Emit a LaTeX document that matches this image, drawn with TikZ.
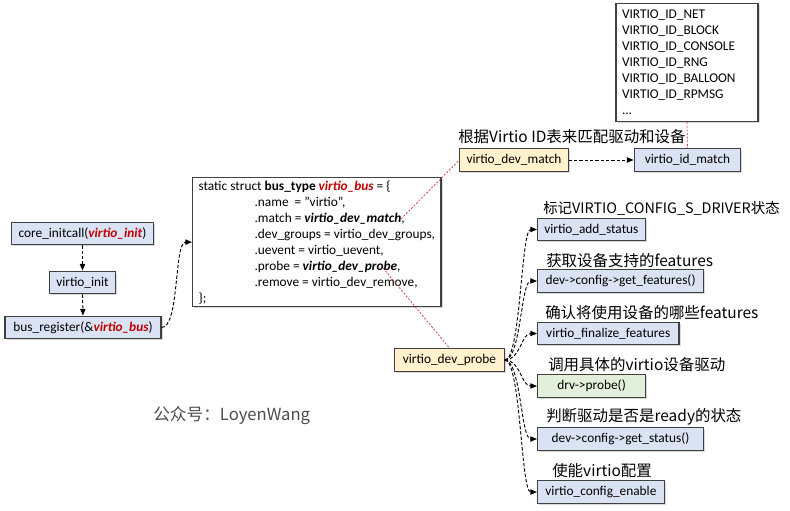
\documentclass[tikz,border=0pt]{standalone}
\usepackage{fontspec}
\setmainfont{Carlito}
\newfontfamily\cjkfont{Noto Sans CJK SC}
\usetikzlibrary{positioning, arrows.meta, shadows}
\definecolor{C0}{RGB}{218, 227, 243}
\definecolor{C1}{RGB}{255, 242, 204}
\definecolor{C2}{RGB}{226, 239, 218}
\definecolor{C3}{RGB}{64,  64,  64}
\definecolor{C4}{RGB}{192,  0,   0}
\definecolor{C5}{RGB}{215, 45,  45}
\newcommand{\redfn}[1]{{\color{C4}\bfseries\itshape #1}}
\newcommand{\boldfn}[1]{{\bfseries\itshape #1}}
\tikzset{
  fn/.style={
    rectangle, draw=C3, fill=#1, line width=0.9pt,
    minimum height=17pt, inner xsep=5pt, inner ysep=2pt,
    font=\fontsize{10}{12}\selectfont,
    drop shadow={shadow xshift=1.2pt, shadow yshift=-1.2pt, opacity=0.3}
  },
  fn/.default=C0,
  codebox/.style={
    rectangle, draw=C3, fill=white, line width=0.9pt,
    align=left, inner xsep=4.5pt, inner ysep=2pt,
    font=\fontsize{10}{12}\selectfont,
    drop shadow={shadow xshift=1.2pt, shadow yshift=-1.2pt, opacity=0.3}
  },
  note/.style={font=\cjkfont\fontsize{11.6}{14}\selectfont, inner sep=0pt, anchor=west},
  arr/.style={-{Triangle[length=5pt,width=4pt]}, line width=0.7pt, dash pattern=on 2.5pt off 1.5pt},
  ref/.style={C5, line width=0.5pt, dash pattern=on 1.5pt off 1.2pt},
}

\begin{document}
\begin{tikzpicture}[x=0.75pt, y=-0.75pt]

  \useasboundingbox (0,0) rectangle (790,511);

  %% ── Init chain ─────────────────────────────────────────────────────────────

  \node[fn, minimum width=106pt] (coreinit) at (82.5, 233.5) {core\_initcall(\redfn{virtio\_init})};
  \node[fn, minimum width=49pt]  (virtinit) at (82.5, 282.5) {virtio\_init};
  \node[fn, minimum width=117pt] (busreg)   at (83,   327.5) {bus\_register(\&\redfn{virtio\_bus})};

  \draw[arr] (coreinit.south) -- (virtinit.north);
  \draw[arr] (virtinit.south) -- (busreg.north);

  %% ── bus_type struct ────────────────────────────────────────────────────────

  \node[codebox, anchor=north west, minimum width=186pt, minimum height=96.75pt] (busstruct) at (192, 177)
    {static struct \textbf{bus\_type} \redfn{virtio\_bus} = \{\\
     \hspace*{42pt}.name~~= \symbol{34}virtio\symbol{34},\\
     \hspace*{42pt}.match = \boldfn{virtio\_dev\_match},\\
     \hspace*{42pt}.dev\_groups = virtio\_dev\_groups,\\
     \hspace*{42pt}.uevent = virtio\_uevent,\\
     \hspace*{42pt}.probe = \boldfn{virtio\_dev\_probe},\\
     \hspace*{42pt}.remove = virtio\_dev\_remove,\\
     \};};

  \draw[arr] (busreg.east) .. controls +(18,0) and +(-18,0) .. (busstruct.west);

  \coordinate (matchref) at (401, 219);
  \coordinate (proberef) at (383, 268);

  %% ── Match path ─────────────────────────────────────────────────────────────

  \node[codebox, anchor=north, text width=97.5pt, minimum height=88.5pt] (idtable) at (687, 3)
    {VIRTIO\_ID\_NET\\
     VIRTIO\_ID\_BLOCK\\
     VIRTIO\_ID\_CONSOLE\\
     VIRTIO\_ID\_RNG\\
     VIRTIO\_ID\_BALLOON\\
     VIRTIO\_ID\_RPMSG\\
     ...};

  \node[fn=C1, minimum width=81pt] (devmatch) at (514,   160) {virtio\_dev\_match};
  \node[fn,    minimum width=80pt] (idmatch)  at (687.5, 160) {virtio\_id\_match};
  \node[note] (matchnote) at (458, 137) {根据Virtio ID表来匹配驱动和设备};

  \draw[arr] (devmatch.east) -- (idmatch.west);

  %% ── Probe path ─────────────────────────────────────────────────────────────

  \node[fn=C1, minimum width=82pt] (devprobe) at (449.5, 360) {virtio\_dev\_probe};

  \node[fn, anchor=west, minimum width=80pt]      (addstatus) at (537, 229.5) {virtio\_add\_status};
  \node[fn, anchor=west, minimum width=124.5pt]   (getfeat)   at (537, 281)   {dev->config->get\_features()};
  \node[fn, anchor=west, minimum width=106pt]     (finalize)  at (537, 333.5) {virtio\_finalize\_features};
  \node[fn=C2, anchor=west, minimum width=81pt]   (drvprobe)  at (537, 386)   {drv->probe()};
  \node[fn, anchor=west, minimum width=124.5pt]   (getstatus) at (537, 439)   {dev->config->get\_status()};
  \node[fn, anchor=west, minimum width=95pt]      (cfgenable) at (537, 492)   {virtio\_config\_enable};

  \node[note, font=\cjkfont\fontsize{10.8}{13}\selectfont] at (543, 208) {标记VIRTIO\_CONFIG\_S\_DRIVER状态};
  \node[note] at (546, 261) {获取设备支持的features};
  \node[note] at (545, 313) {确认将使用设备的哪些features};
  \node[note] at (548, 365) {调用具体的virtio设备驱动};
  \node[note] at (546, 417) {判断驱动是否是ready的状态};
  \node[note] at (552, 471) {使能virtio配置};

  \foreach \t in {addstatus, getfeat, finalize, drvprobe, getstatus, cfgenable}
    \draw[arr] (devprobe.east) .. controls +(16,0) and +(-16,0) .. (\t.west);

  %% ── Cross references ───────────────────────────────────────────────────────

  \draw[ref] (matchref) -- (devmatch.west);
  \draw[ref] (proberef) -- (devprobe.north);
  \draw[ref] (idtable.south) -- (idmatch.north);

  % watermark
  \node[font=\cjkfont\fontsize{12.5}{14}\selectfont, text=black!70, anchor=west, inner sep=0pt] (mark)
    at (153, 416) {公众号：LoyenWang};

\end{tikzpicture}
\end{document}
